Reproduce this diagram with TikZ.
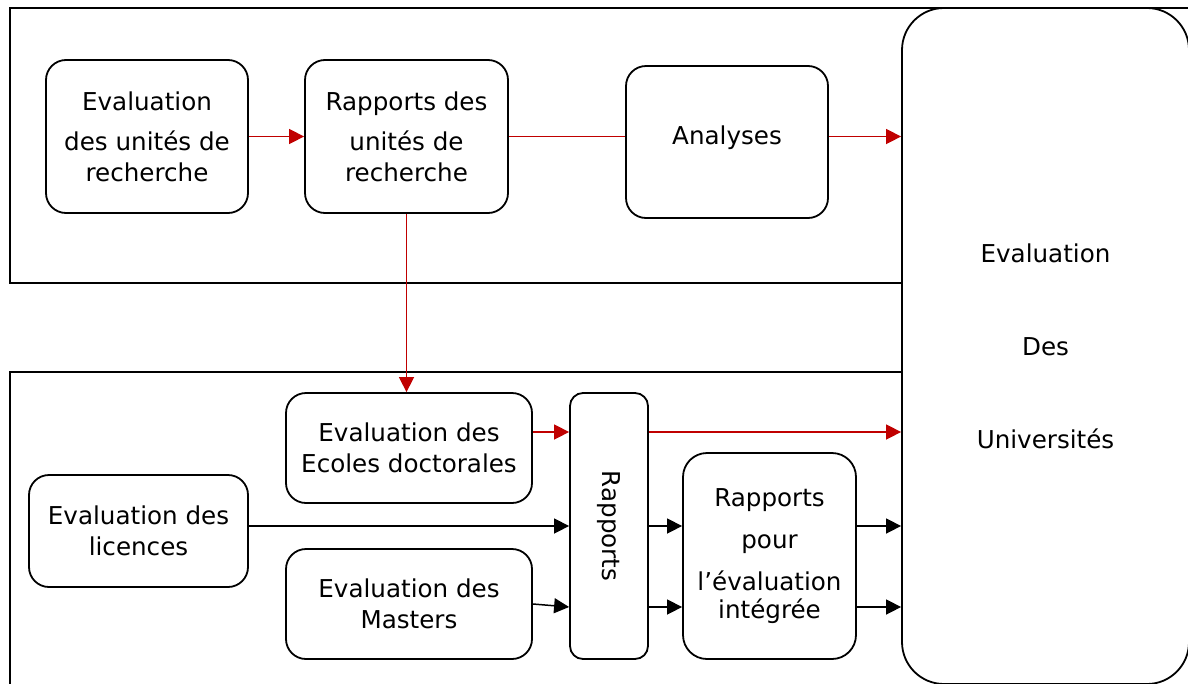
\documentclass[tikz,border=0pt]{standalone}
\usepackage{fontspec}
\setmainfont{DejaVu Sans}
\usepackage{graphicx}
\usepackage{tikz}
\usetikzlibrary{arrows.meta,calc}
\definecolor{linkred}{RGB}{192,0,0}

\begin{document}
\begin{tikzpicture}[x=1pt,y=-1pt,
    box/.style={draw,line width=1.8pt,rounded corners=20pt,align=center,inner sep=2pt,
                font=\fontsize{24.6}{31}\selectfont},
    frame/.style={draw,line width=1.8pt},
    link/.style={line width=1.5pt,-{Triangle[length=15pt,width=15pt]}},
    redlink/.style={link,linkred}]
    \useasboundingbox (0,0) rectangle (1188,683);
    \clip (0,0) rectangle (1188,683);
    % the two frames
    \draw[frame] (10,8) rectangle (1220,283);
    \draw[frame] (10,372) rectangle (1220,720);
    % top row
    \node[box,minimum width=202pt,minimum height=153pt] (evalUR) at (147,136.5)
        {Evaluation\\[9pt]des unités de\\recherche};
    \node[box,minimum width=203pt,minimum height=153pt] (rapUR) at (406.5,136.5)
        {Rapports des\\[9pt]unités de\\recherche};
    \node[box,minimum width=202pt,minimum height=152pt,text height=18pt,text depth=14pt] (analyses) at (727,142)
        {Analyses};
    % bottom part
    \node[box,minimum width=246pt,minimum height=110pt] (ecoles) at (409,448)
        {Evaluation des\\Ecoles doctorales};
    \node[box,minimum width=219pt,minimum height=112pt] (licences) at (138.5,531)
        {Evaluation des\\licences};
    \node[box,minimum width=246pt,minimum height=110pt] (masters) at (409,604)
        {Evaluation des\\Masters};
    \node[box,rounded corners=13pt,minimum width=78pt,minimum height=266pt] (rapp) at (609,526)
        {\rotatebox{-90}{Rapports}};
    \node[box,rounded corners=24pt,minimum width=173pt,minimum height=206pt] (rapInt) at (769.5,556)
        {Rapports\\[11pt]pour\\[11pt]l’évaluation\\[-3pt]intégrée};
    \node[box,fill=white,rounded corners=42pt,minimum width=287pt,minimum height=676pt,
          font=\fontsize{24.6}{93}\selectfont] (univ) at (1045.5,346)
        {Evaluation\\Des\\Universités};
    % levels of the lower arrows
    \coordinate (lvlR) at (0,432);
    \coordinate (lvlA) at (0,526);
    \coordinate (lvlB) at (0,607);
    % red path
    \draw[redlink] (evalUR.east) -- (rapUR.west);
    \draw[linkred,line width=1.5pt] (rapUR.east) -- (rapUR.east -| analyses.west);
    \draw[redlink] (rapUR.east -| analyses.east) -- (rapUR.east -| univ.west);
    \draw[redlink] (rapUR.south) -- (rapUR.south |- ecoles.north);
    \draw[redlink] (ecoles.east |- lvlR) -- (rapp.west |- lvlR);
    \draw[redlink] (rapp.east |- lvlR) -- (univ.west |- lvlR);
    % black arrows
    \draw[link] (licences.east |- lvlA) -- (rapp.west |- lvlA);
    \draw[link] (masters.east) -- (rapp.west |- lvlB);
    \draw[link] (rapp.east |- lvlA) -- (rapInt.west |- lvlA);
    \draw[link] (rapp.east |- lvlB) -- (rapInt.west |- lvlB);
    \draw[link] (rapInt.east |- lvlA) -- (univ.west |- lvlA);
    \draw[link] (rapInt.east |- lvlB) -- (univ.west |- lvlB);
\end{tikzpicture}
\end{document}
